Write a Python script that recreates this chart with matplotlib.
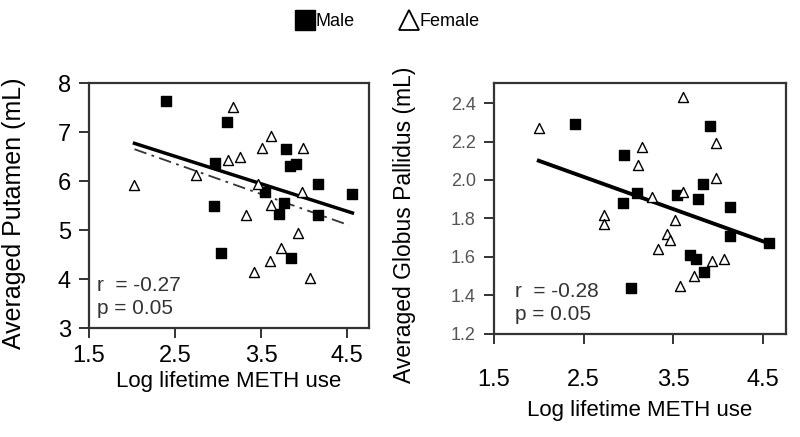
import matplotlib
matplotlib.use('Agg')
import matplotlib.pyplot as plt
from matplotlib.lines import Line2D

plt.rcParams['font.family'] = ['Liberation Sans', 'DejaVu Sans']

# Putamen panel
put_male_x = [2.40, 3.10, 2.97, 3.79, 3.83, 3.91, 4.16, 3.54, 2.95, 3.76, 3.71, 4.16, 4.56, 3.04, 3.85]
put_male_y = [7.63, 7.20, 6.37, 6.65, 6.31, 6.34, 5.94, 5.77, 5.49, 5.56, 5.33, 5.31, 5.73, 4.54, 4.44]
put_fem_x = [3.17, 3.62, 3.51, 3.99, 3.11, 3.26, 2.74, 2.03, 3.46, 3.98, 3.62, 3.33, 3.93, 3.73, 3.60, 3.42, 4.07]
put_fem_y = [7.52, 6.92, 6.67, 6.67, 6.44, 6.50, 6.12, 5.92, 5.94, 5.77, 5.51, 5.31, 4.95, 4.63, 4.37, 4.15, 4.03]
put_fit_x = [2.03, 4.56]
put_fit_y = [6.77, 5.35]
put_fit2_x = [2.03, 4.52]
put_fit2_y = [6.65, 5.10]

# Globus pallidus panel
gp_male_x = [2.40, 2.95, 2.94, 3.10, 3.91, 3.83, 3.54, 3.78, 4.14, 4.14, 4.57, 3.69, 3.76, 3.85, 3.03]
gp_male_y = [2.29, 2.13, 1.88, 1.93, 2.28, 1.98, 1.92, 1.90, 1.86, 1.71, 1.67, 1.61, 1.59, 1.52, 1.44]
gp_fem_x = [2.00, 3.15, 3.11, 2.73, 2.73, 3.61, 3.98, 3.98, 3.61, 3.26, 3.52, 3.43, 3.46, 3.33, 3.93, 4.07, 3.73, 3.58]
gp_fem_y = [2.27, 2.17, 2.08, 1.82, 1.77, 2.43, 2.19, 2.01, 1.94, 1.91, 1.79, 1.72, 1.69, 1.64, 1.58, 1.59, 1.50, 1.45]
gp_fit_x = [2.00, 4.57]
gp_fit_y = [2.10, 1.67]

x_ticks = [1.5, 2.5, 3.5, 4.5]
put_ticks = [3, 4, 5, 6, 7, 8]
gp_ticks = [1.2, 1.4, 1.6, 1.8, 2.0, 2.2, 2.4]

fig = plt.figure(figsize=(8, 4.37), dpi=100)
ax1 = fig.add_axes([0.111, 0.249, 0.350, 0.561])
ax2 = fig.add_axes([0.6175, 0.236, 0.365, 0.574])

def style(ax):
    for s in ax.spines.values():
        s.set_linewidth(1.6)
        s.set_color('#333333')
    ax.tick_params(direction='out', length=7, width=1.4, color='#333333', pad=6)

# left
ax1.plot(put_fit_x, put_fit_y, color='black', lw=2.5, zorder=2)
ax1.plot(put_fit2_x, put_fit2_y, color='#333333', lw=1.3, ls=(0, (7, 3, 1.5, 3)), zorder=2)
ax1.scatter(put_male_x, put_male_y, marker='s', s=42, c='black', zorder=3)
ax1.scatter(put_fem_x, put_fem_y, marker='^', s=52, facecolors='white', edgecolors='black', linewidths=1.0, zorder=3)
ax1.set_xlim(1.5, 4.75)
ax1.set_ylim(3, 8)
ax1.set_xticks(x_ticks)
ax1.set_xticklabels(['1.5', '2.5', '3.5', '4.5'])
ax1.set_yticks(put_ticks)
style(ax1)
ax1.tick_params(labelsize=17)
ax1.tick_params(axis='x', pad=5)
ax1.set_ylabel('Averaged Putamen (mL)', fontsize=18)
ax1.yaxis.set_label_coords(-0.225, 0.47)
ax1.set_xlabel('Log lifetime METH use', fontsize=16)
ax1.xaxis.set_label_coords(0.5, -0.175)
ax1.text(1.59, 3.88, 'r  = -0.27', fontsize=15, color='#333333', va='center')
ax1.text(1.59, 3.41, 'p = 0.05', fontsize=15, color='#333333', va='center')

# right
ax2.plot(gp_fit_x, gp_fit_y, color='black', lw=2.8, zorder=2)
ax2.scatter(gp_male_x, gp_male_y, marker='s', s=42, c='black', zorder=3)
ax2.scatter(gp_fem_x, gp_fem_y, marker='^', s=52, facecolors='white', edgecolors='black', linewidths=1.0, zorder=3)
ax2.set_xlim(1.5, 4.76)
ax2.set_ylim(1.2, 2.504)
ax2.set_xticks(x_ticks)
ax2.set_xticklabels(['1.5', '2.5', '3.5', '4.5'])
ax2.set_yticks(gp_ticks)
ax2.set_yticklabels(['%.1f' % v for v in gp_ticks])
style(ax2)
ax2.tick_params(axis='x', labelsize=17, pad=18)
ax2.tick_params(axis='y', labelsize=13, labelcolor='#555555')
ax2.set_ylabel('Averaged Globus Pallidus (mL)', fontsize=16.5)
ax2.yaxis.set_label_coords(-0.267, 0.434)
ax2.set_xlabel('Log lifetime METH use', fontsize=16)
ax2.xaxis.set_label_coords(0.5, -0.265)
ax2.text(1.73, 1.42, 'r  = -0.28', fontsize=15, color='#333333', va='center')
ax2.text(1.73, 1.30, 'p = 0.05', fontsize=15, color='#333333', va='center')

handles = [
    Line2D([], [], marker='s', ls='none', color='black', markersize=15),
    Line2D([], [], marker='^', ls='none', markerfacecolor='white', markeredgecolor='black',
           markeredgewidth=1.3, markersize=15),
]
fig.legend(handles, ['Male', 'Female'], loc='center', bbox_to_anchor=(0.485, 0.95), ncol=2,
           frameon=False, fontsize=13, handlelength=1.0, handletextpad=0.1, columnspacing=2.5)

fig.savefig('out.png', dpi=100)
